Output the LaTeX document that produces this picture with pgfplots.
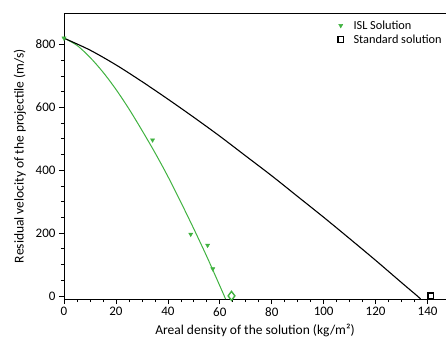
\documentclass[border=0pt]{standalone}
\usepackage{pgfplots}
\pgfplotsset{compat=1.18}
\usepackage{fontspec}
\setmainfont{Carlito}
\definecolor{islgreen}{RGB}{64,178,64}
\begin{document}
\begin{tikzpicture}
\clip (-64pt,-39pt) rectangle (382pt,299pt);
\begin{axis}[
  scale only axis,
  width=382pt, height=286pt,
  xmin=0, xmax=147.1, ymin=-10, ymax=900,
  axis x line*=box, axis y line*=left,
  y axis line style={-},
  xtick={0,20,...,140}, ytick={0,200,...,800},
  minor x tick num=3, minor y tick num=3,
  xtick pos=bottom, ytick pos=left,
  tick align=outside,
  major tick length=5pt, minor tick length=3pt,
  tick style={black, line width=0.7pt},
  axis line style={line width=0.9pt},
  /pgf/number format/assume math mode=true,
  ticklabel style={font=\fontsize{13}{15}\selectfont},
  label style={font=\fontsize{13.5}{15}\selectfont},
  xlabel={Areal density of the solution (kg/m²)},
  ylabel={Residual velocity of the projectile (m/s)},
  xlabel style={yshift=-1pt},
  ylabel style={yshift=3pt},
  legend style={at={(rel axis cs:0.714,0.985)}, anchor=north west, draw=none, fill=none,
    font=\fontsize{12.3}{15}\selectfont, row sep=0pt, inner sep=1pt,
    /tikz/every odd column/.append style={column sep=8pt}},
  legend cell align=left,
  clip=false,
]
\addplot[only marks, mark=triangle*, mark size=2.4pt, color=islgreen, mark options={rotate=180}]
  coordinates {(0,820) (34.1,496) (48.8,196) (55.3,161) (57.3,86)};
\addlegendentry{ISL Solution}
\addplot[only marks, mark=square, mark size=2.8pt, black, mark options={line width=1.3pt}]
  coordinates {(141.2,0)};
\addlegendentry{Standard solution}
\addplot[forget plot, color=islgreen, line width=1pt, smooth]
  coordinates {(0,820) (5,797) (10,759) (15,712) (20,657) (25,595) (30,527) (35,456)
   (40,380) (45,298) (50,213) (55,125) (60,32) (61.7,0) (62.2,-10)};
\addplot[forget plot, black, line width=1.1pt, smooth]
  coordinates {(0,820) (10,782) (20,735) (30,682) (40,626) (50,568) (60,508) (70,445)
   (80,382) (90,316) (100,250) (110,182) (120,113) (130,42) (136,0) (137.3,-10)};
\addplot[forget plot, only marks, mark=diamond, mark size=4.5pt, color=islgreen, mark options={line width=1.4pt}]
  coordinates {(64.5,0)};
\end{axis}
\end{tikzpicture}
\end{document}
